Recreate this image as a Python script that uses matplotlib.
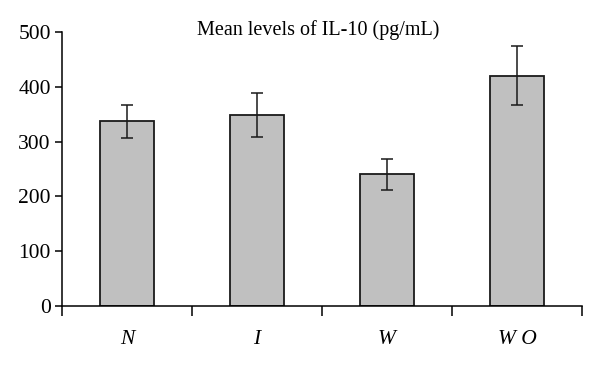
import numpy as np
import matplotlib.pyplot as plt

# data
groups = ['N', 'I', 'W', 'WO']
means = [337, 349, 240, 420]
errors = [30, 40, 29, 54]

plt.rcParams['font.family'] = ['Liberation Serif', 'DejaVu Serif']

fig = plt.figure(figsize=(6, 3.67), dpi=100)
ax = fig.add_axes([0.1033, 0.166, 0.8667, 0.747])

x = np.arange(len(groups))
ax.bar(x, means, width=0.42, color='#c0c0c0', edgecolor='#1a1a1a', linewidth=1.3, zorder=2)
ax.errorbar(x, means, yerr=errors, fmt='none', ecolor='#1a1a1a',
            elinewidth=1.1, capsize=4, capthick=1.1, zorder=3)

ax.set_xlim(-0.5, len(groups) - 0.5)
ax.set_ylim(0, 500)
ax.set_yticks(range(0, 501, 100))
ax.tick_params(axis='y', direction='out', length=5, width=1.1, labelsize=15.5, pad=3)

# category labels at centers, tick marks at the boundaries
ax.set_xticks(x)
ax.set_xticklabels(['N', 'I', 'W', 'W O'], fontstyle='italic')
ax.tick_params(axis='x', which='major', length=0, labelsize=15.5, pad=17)
ax.set_xticks(np.arange(-0.5, len(groups)), minor=True)
ax.tick_params(axis='x', which='minor', direction='out', length=7, width=1.1)

for side in ['top', 'right']:
    ax.spines[side].set_visible(False)
for side in ['left', 'bottom']:
    ax.spines[side].set_linewidth(1.1)

fig.text(0.53, 0.918, 'Mean levels of IL-10 (pg/mL)', ha='center', va='center', fontsize=14.5)

fig.savefig('out.png', dpi=100)
